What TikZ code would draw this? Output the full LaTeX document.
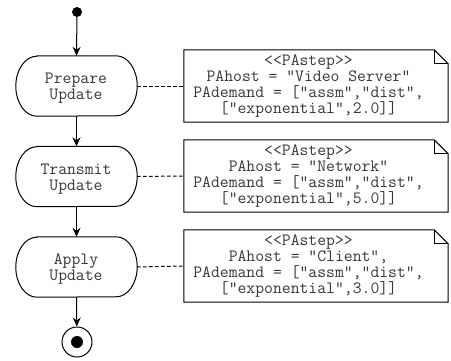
\documentclass[tikz,border=0pt]{standalone}
\usepackage{fontspec}
\usetikzlibrary{arrows.meta}

\tikzset{
  base/.style={line width=1pt, draw=black},
  flow/.style={base, -{Stealth[length=9pt,width=8pt,inset=3pt]}},
  link/.style={base, dash pattern=on 3.5pt off 2.5pt},
  label/.style={inner sep=0pt, align=center, text=black!78,
    font=\ttfamily\fontsize{17.2}{16}\selectfont},
  action/.style={minimum width=121pt, minimum height=60pt, inner sep=0pt},
  note/.style={inner sep=0pt, minimum width=264pt, minimum height=72pt},
  initial/.style={circle, fill=black, inner sep=0pt, minimum size=10pt},
  final/.style={circle, base, inner sep=0pt, minimum size=30pt}
}

% pill-shaped outline of an action node (elliptic ends)
\newcommand\pilloutline[1]{%
  \draw[base] ([xshift=21pt]#1.north west) -- ([xshift=-21pt]#1.north east)
    arc[start angle=90, end angle=-90, x radius=21pt, y radius=30pt]
    -- ([xshift=21pt]#1.south west)
    arc[start angle=270, end angle=90, x radius=21pt, y radius=30pt] -- cycle;}

% note outline with a folded top-right corner
\newcommand\noteoutline[1]{%
  \draw[base] (#1.north west) -- ([xshift=-14pt]#1.north east)
    -- ([yshift=-14pt]#1.north east) -- (#1.south east)
    -- (#1.south west) -- cycle;
  \draw[base] ([xshift=-14pt]#1.north east)
    -- ([xshift=-14pt,yshift=-14pt]#1.north east)
    -- ([yshift=-14pt]#1.north east);}

\begin{document}
\begin{tikzpicture}[x=1pt, y=-1pt]
  \fill[white] (0,0) rectangle (451,360);
  \useasboundingbox (0,0) rectangle (451,360);

  % activity flow
  \node[initial] (s) at (77,12) {};
  \node[action] (a1) at (76.5,86) {};
  \node[action] (a2) at (76.5,176.5) {};
  \node[action] (a3) at (76.5,267) {};
  \node[final] (f) at (77,342) {};
  \fill (f.center) circle[radius=6pt];

  \pilloutline{a1}
  \pilloutline{a2}
  \pilloutline{a3}

  % action captions
  \node[label] (c1) at (76,88.3) {Prepare\\Update};
  \node[label] (c2) at (76,178.8) {Transmit\\Update};
  \node[label] (c3) at (76,269.3) {Apply\\Update};

  \draw[flow] (s) -- (a1.north);
  \draw[flow] (a1.south) -- (a2.north);
  \draw[flow] (a2.south) -- (a3.north);
  \draw[flow] (a3.south) -- (f);

  % performance annotations
  \node[note] (n1) at (316,86) {};
  \node[note] (n2) at (316,176) {};
  \node[note] (n3) at (316,266) {};
  \noteoutline{n1}
  \noteoutline{n2}
  \noteoutline{n3}

  \node[label] (t1) at (308.5,86) {<<PAstep>>\\PAhost = "Video Server"\\PAdemand = ["assm","dist",\\{}["exponential",2.0]]};
  \node[label] (t2) at (308.5,176) {<<PAstep>>\\PAhost = "Network"\\PAdemand = ["assm","dist",\\{}["exponential",5.0]]};
  \node[label] (t3) at (308.5,266) {<<PAstep>>\\PAhost = "Client",\\PAdemand = ["assm","dist",\\{}["exponential",3.0]]};

  \draw[link] (a1.east) -- (n1.west);
  \draw[link] (a2.east) -- (n2.west);
  \draw[link] (a3.east) -- (n3.west);
\end{tikzpicture}
\end{document}
